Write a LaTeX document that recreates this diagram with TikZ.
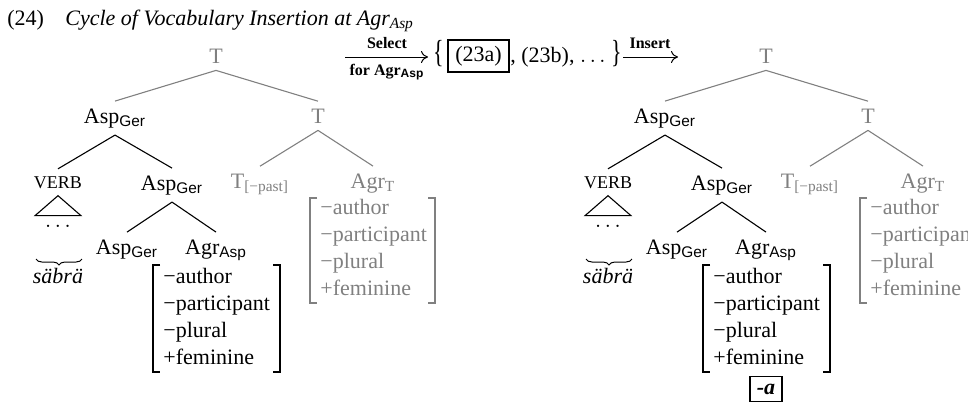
\documentclass[tikz,border=0pt]{standalone}
\usepackage{fontspec}
\setmainfont{Liberation Serif}
\newfontfamily\subsans{Liberation Sans}
\usepackage{graphicx}
\usetikzlibrary{arrows.meta,decorations.pathreplacing}

\definecolor{treegray}{RGB}{128,128,128}

% subscripts: sans labels (Ger, Asp) and serif ones (T, [-past])
\newcommand\sfsub[1]{\textsubscript{\subsans #1}}
\newcommand\rmsub[1]{\textsubscript{#1}}
\newcommand\capsfont{\fontsize{9}{10}\selectfont}
\newcommand\mainsize{\fontsize{11}{13}\selectfont}

\tikzset{
  lbl/.style={font=\mainsize, inner sep=3.5pt, anchor=base},
  plain/.style={font=\mainsize, inner sep=0pt},
  feat/.style={font=\mainsize, inner sep=0pt, anchor=base west},
  faded/.style={text=treegray},
  branch/.style={line width=0.55pt},
  fbracket/.style={line width=0.9pt},
  arrowlbl/.style={font=\fontsize{8}{9}\selectfont\bfseries, inner sep=0pt, anchor=base},
  conn/.style={line width=0.5pt, -{To[length=3.5pt,width=6pt]}},
  framed/.style={draw, line width=0.6pt, inner sep=0pt, font=\mainsize}
}

% one syntactic tree; #1 = name prefix, #2 = horizontal offset
\newcommand\CycleTree[2]{%
\begin{scope}[xshift=#2]
  % nodes
  \node[lbl,faded] (#1T) at (216,63) {T};
  \node[lbl] (#1asp) at (115,123) {Asp\sfsub{Ger}};
  \node[lbl,faded] (#1Tb) at (318,123) {T};
  \node[lbl] (#1verb) at (58,188) {\capsfont VERB};
  \node[lbl] (#1aspB) at (172,190) {Asp\sfsub{Ger}};
  \node[lbl,faded] (#1Tpast) at (260,188) {T\rmsub{[−past]}};
  \node[lbl,faded] (#1agrT) at (373,188) {Agr\rmsub{T}};
  \node[lbl] (#1aspC) at (127,254) {Asp\sfsub{Ger}};
  \node[lbl] (#1agr) at (216,254) {Agr\sfsub{Asp}};
  % branches
  \draw[branch,treegray] (#1T.south) -- (#1asp.north);
  \draw[branch,treegray] (#1T.south) -- (#1Tb.north);
  \draw[branch] (#1asp.south) -- (#1verb.north);
  \draw[branch] (#1asp.south) -- (#1aspB.north);
  \draw[branch,treegray] (#1Tb.south) -- (#1Tpast.north);
  \draw[branch,treegray] (#1Tb.south) -- (#1agrT.north);
  \draw[branch] (#1aspB.south) -- (#1aspC.north);
  \draw[branch] (#1aspB.south) -- (#1agr.north);
  % VERB with its triangle, dots, brace and exponent
  \draw[branch] (#1verb.south) -- ++(-23,20) -- ++(46,0) -- cycle;
  \node[lbl] (#1dots) at (58,227) {$\ldots$};
  \draw[line width=0.5pt, decorate, decoration={brace,mirror,amplitude=3pt}]
    (36,259) -- (82,259);
  \node[lbl] (#1word) at (58,283) {\textit{säbrä}};
  % features of Agr_T
  \node[feat,faded] (#1ga) at (320,214) {−author};
  \node[feat,faded] (#1gb) at (320,241) {−participant};
  \node[feat,faded] (#1gc) at (320,268) {−plural};
  \node[feat,faded] (#1gd) at (320,295) {+feminine};
  \draw[fbracket,treegray] (317,198) -- (310,198) -- (310,303) -- (317,303);
  \draw[fbracket,treegray] (428,198) -- (435,198) -- (435,303) -- (428,303);
  % features of Agr_Asp
  \node[feat] (#1fa) at (163,283) {−author};
  \node[feat] (#1fb) at (163,310) {−participant};
  \node[feat] (#1fc) at (163,337) {−plural};
  \node[feat] (#1fd) at (163,364) {+feminine};
  \draw[fbracket] (160,265) -- (153,265) -- (153,372) -- (160,372);
  \draw[fbracket] (273,265) -- (280,265) -- (280,372) -- (273,372);
\end{scope}}

\begin{document}
\begin{tikzpicture}[x=0.5pt, y=-0.5pt]
  \useasboundingbox (0,0) rectangle (968,409);
  \clip (0,0) rectangle (968,409);

  % heading
  \node[plain, anchor=base west] (num) at (7,25) {(24)};
  \node[plain, anchor=base west] (title) at (65,25)
    {\textit{Cycle of Vocabulary Insertion at Agr\textsubscript{Asp}}};

  % the tree before and after insertion
  \CycleTree{L}{0pt}
  \CycleTree{R}{275pt}
  \node[framed, minimum width=16pt, minimum height=12.5pt] (exponent)
    at (766,389) {\textbf{\textit{-a}}};

  % selection step
  \coordinate (sel0) at (345,57);
  \coordinate (sel1) at (428,57);
  \draw[conn] (sel0) -- (sel1);
  \node[arrowlbl] (selup) at (387,48) {Select};
  \node[arrowlbl] (seldown) at (387,75) {for Agr\sfsub{Asp}};

  % candidate set
  \node[plain, anchor=base east] (lbrace) at (444,62) {\scalebox{1}[1.45]{\{}};
  \node[framed, minimum width=30.5pt, minimum height=16pt] (choice)
    at (478.5,56) {(23a)};
  \node[plain, anchor=base west] (rest) at (510,62)
    {, (23b), $\ldots$\ \scalebox{1}[1.45]{\}}};

  % insertion step
  \coordinate (ins0) at (623,57);
  \coordinate (ins1) at (678,57);
  \draw[conn] (ins0) -- (ins1);
  \node[arrowlbl] (insup) at (650,48) {Insert};
\end{tikzpicture}
\end{document}
